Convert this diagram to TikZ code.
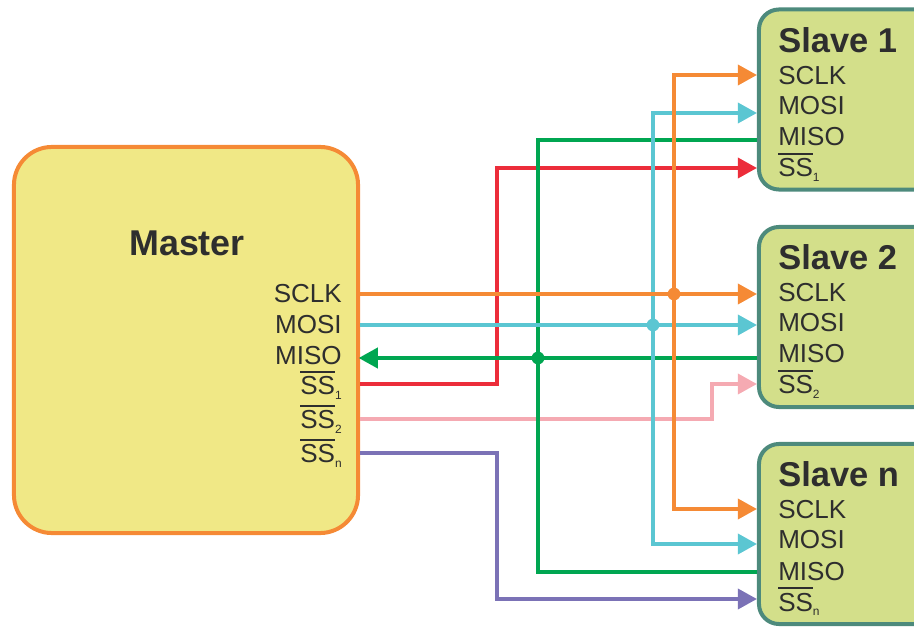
\documentclass[tikz,border=0pt]{standalone}
\usepackage{fontspec}
\setmainfont{Liberation Sans}
\usetikzlibrary{arrows.meta,positioning}

\definecolor{masterfill}{HTML}{F0E886}
\definecolor{masterline}{HTML}{F58A35}
\definecolor{slavefill}{HTML}{D3DF8A}
\definecolor{slaveline}{HTML}{4D8A7C}
\definecolor{txt}{HTML}{2E2E2E}
\definecolor{sclkcol}{HTML}{F58A35}
\definecolor{mosicol}{HTML}{5BC6D2}
\definecolor{misocol}{HTML}{00A651}
\definecolor{ssonecol}{HTML}{EC2D3A}
\definecolor{sstwocol}{HTML}{F5AAB2}
\definecolor{ssncol}{HTML}{7B72B6}

\newcommand{\ssbar}[1]{\leavevmode\vbox{\hrule height 1pt \kern 3pt \hbox{SS}}\raisebox{-0.35ex}{\fontsize{8.5}{9}\selectfont#1}}

\tikzset{
  masterbox/.style={draw=masterline, fill=masterfill, line width=0.1cm,
    rounded corners=0.95cm, minimum width=8.6cm, minimum height=9.65cm},
  slavebox/.style={draw=slaveline, fill=slavefill, line width=0.1cm,
    rounded corners=0.5cm, minimum width=4.4cm, minimum height=4.5cm},
  mtitle/.style={font=\fontsize{25.5}{28}\selectfont\bfseries, text=txt, inner sep=0pt, anchor=base},
  stitle/.style={font=\fontsize{24.5}{27}\selectfont\bfseries, text=txt, inner sep=0pt, anchor=base west},
  pin/.style={font=\fontsize{18.5}{22}\selectfont, text=txt, inner sep=0pt},
  wire/.style={line width=0.1cm},
  sig/.style={wire, -{Triangle[length=0.48cm,width=0.5cm]}},
}

\begin{document}
\begin{tikzpicture}[x=0.025cm, y=-0.025cm]
\useasboundingbox (0,0) rectangle (914,628);

% boxes
\node (master) [masterbox] at (186,340) {};
\node (slave1) [slavebox] at (847,99.5) {};
\node (slave2) [slavebox] at (847,317) {};
\node (slaven) [slavebox] at (847,534) {};

% master labels
\node (mname) [mtitle] at (187,256) {Master};
\node (msclk) [pin, anchor=base east] at (342,303) {SCLK};
\node (mmosi) [pin, anchor=base east] at (342,334) {MOSI};
\node (mmiso) [pin, anchor=base east] at (342,365) {MISO};
\node (mss1) [pin, anchor=base east] at (342,395) {\ssbar{1}};
\node (mss2) [pin, anchor=base east] at (342,429) {\ssbar{2}};
\node (mssn) [pin, anchor=base east] at (342,463) {\ssbar{n}};

% slave labels
\foreach \s/\t in {1/8, 2/225, n/442} {
  \node (s\s name) [stitle] at (778,\t+45) {Slave \s};
  \node (s\s sclk) [pin, anchor=base west] at (778,\t+77) {SCLK};
  \node (s\s mosi) [pin, anchor=base west] at (778,\t+107) {MOSI};
  \node (s\s miso) [pin, anchor=base west] at (778,\t+138) {MISO};
  \node (s\s ss) [pin, anchor=base west] at (778,\t+169) {\ssbar{\s}};
}

% pin points
\coordinate (m-sclk) at (master.east |- 0,294);
\coordinate (m-mosi) at (master.east |- 0,325);
\coordinate (m-miso) at (master.east |- 0,358);
\coordinate (m-ss1) at (master.east |- 0,384);
\coordinate (m-ss2) at (master.east |- 0,419);
\coordinate (m-ssn) at (master.east |- 0,453);
\foreach \s/\a/\b/\c/\d in {1/75/113/140/168, 2/294/325/358/384, n/509/544/572/599} {
  \coordinate (s\s-sclk) at (slave\s.west |- 0,\a);
  \coordinate (s\s-mosi) at (slave\s.west |- 0,\b);
  \coordinate (s\s-miso) at (slave\s.west |- 0,\c);
  \coordinate (s\s-ss) at (slave\s.west |- 0,\d);
}

% bends and junctions
\coordinate (j-sclk) at (674,294);
\coordinate (j-mosi) at (653,325);
\coordinate (j-miso) at (538,358);
\coordinate (b-ss1) at (497,384);
\coordinate (b-ss2) at (712,384);
\coordinate (b-ssn) at (497,599);

% select lines
\draw[sig, ssonecol] (m-ss1) -- (b-ss1) |- (s1-ss);
\draw[sig, sstwocol] (m-ss2) -| (b-ss2) -- (s2-ss);
\draw[sig, ssncol] (m-ssn) -| (b-ssn) -- (sn-ss);

% miso
\draw[wire, misocol] (s1-miso) -| (j-miso) |- (sn-miso);
\draw[sig, misocol, shorten >=-1pt] (s2-miso) -- (m-miso);
\fill[misocol] (j-miso) circle (0.16cm);

% mosi
\draw[sig, mosicol] (m-mosi) -- (s2-mosi);
\draw[sig, mosicol] (j-mosi) |- (s1-mosi);
\draw[sig, mosicol] (j-mosi) |- (sn-mosi);
\fill[mosicol] (j-mosi) circle (0.16cm);

% sclk
\draw[sig, sclkcol] (m-sclk) -- (s2-sclk);
\draw[sig, sclkcol] (j-sclk) |- (s1-sclk);
\draw[sig, sclkcol] (j-sclk) |- (sn-sclk);
\fill[sclkcol] (j-sclk) circle (0.16cm);
\end{tikzpicture}
\end{document}
